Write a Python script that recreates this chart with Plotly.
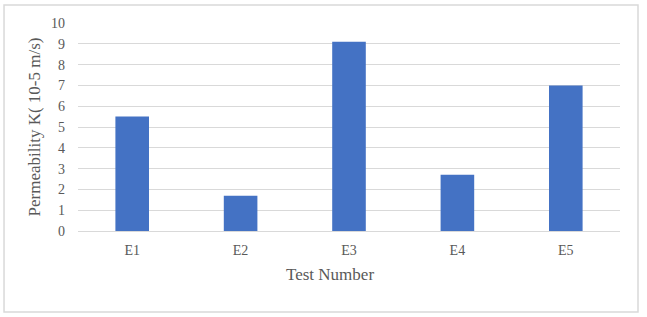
import plotly.graph_objects as go

categories = ["E1", "E2", "E3", "E4", "E5"]
permeability = [5.5, 1.7, 9.1, 2.7, 7.0]
y_ticks = list(range(0, 11))

SERIF = "Liberation Serif"
GRAY = "#595959"

fig = go.Figure()
fig.add_trace(go.Bar(x=categories, y=permeability, marker=dict(color="#4472C4", line=dict(width=0))))

fig.update_layout(
    width=647, height=317,
    margin=dict(l=78, r=27, t=23, b=86),
    paper_bgcolor="white", plot_bgcolor="white",
    bargap=0.69,
    showlegend=False,
    font=dict(family=SERIF, color=GRAY, size=14),
    xaxis=dict(
        showgrid=False, showline=True, linecolor="#d9d9d9", linewidth=1,
        ticks="", ticklabelstandoff=6, tickfont=dict(family=SERIF, size=14, color=GRAY),
    ),
    yaxis=dict(
        title=dict(text="Permeability K( 10-5 m/s)", font=dict(family=SERIF, size=17, color=GRAY), standoff=6),
        range=[0, 10], tickvals=y_ticks, showgrid=True, gridcolor="#d9d9d9", gridwidth=1,
        zeroline=False, ticks="", ticklabelstandoff=12, tickfont=dict(family=SERIF, size=14, color=GRAY),
    ),
    annotations=[dict(text="Test Number", xref="paper", yref="paper", x=0.465, y=-0.207,
                      xanchor="center", yanchor="middle", showarrow=False,
                      font=dict(family=SERIF, size=17, color=GRAY))],
    shapes=[dict(type="rect", xref="paper", yref="paper",
                 x0=-0.1365, x1=1.0332, y0=-0.3894, y1=1.0865,
                 line=dict(color="#d9d9d9", width=1.5), fillcolor="rgba(0,0,0,0)", layer="below")],
)

fig.write_html("out.html", config={"displayModeBar": False},
               post_script="document.body.style.margin='0';")
